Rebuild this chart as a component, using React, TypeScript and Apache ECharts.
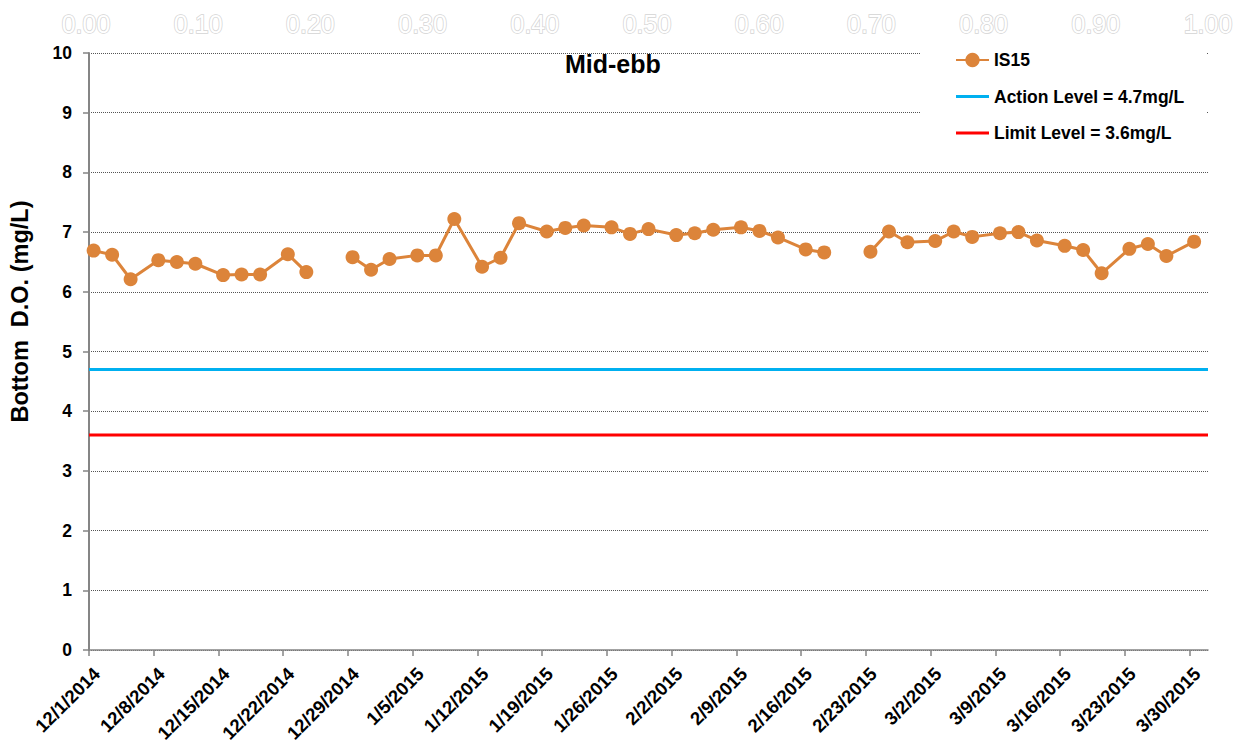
import React, { useEffect, useRef } from "react";
import * as echarts from "echarts";

// ---- data ----
const START_DATE = "12/1/2014";
const END_DATE = "4/1/2015";
const SAMPLE_TIME_OF_DAY = 0.5; // fraction of a day (sampling around midday)
const TICK_DAYS = 7;

const sampleDates = [
  "12/1/2014", "12/3/2014", "12/5/2014", "12/8/2014", "12/10/2014", "12/12/2014",
  "12/15/2014", "12/17/2014", "12/19/2014", "12/22/2014", "12/24/2014", "12/26/2014",
  "12/29/2014", "12/31/2014", "1/2/2015", "1/5/2015", "1/7/2015", "1/9/2015",
  "1/12/2015", "1/14/2015", "1/16/2015", "1/19/2015", "1/21/2015", "1/23/2015",
  "1/26/2015", "1/28/2015", "1/30/2015", "2/2/2015", "2/4/2015", "2/6/2015",
  "2/9/2015", "2/11/2015", "2/13/2015", "2/16/2015", "2/18/2015", "2/20/2015",
  "2/23/2015", "2/25/2015", "2/27/2015", "3/2/2015", "3/4/2015", "3/6/2015",
  "3/9/2015", "3/11/2015", "3/13/2015", "3/16/2015", "3/18/2015", "3/20/2015",
  "3/23/2015", "3/25/2015", "3/27/2015", "3/30/2015",
];

const is15Values: (number | null)[] = [
  6.69, 6.62, 6.21, 6.53, 6.50, 6.47,
  6.28, 6.29, 6.29, 6.63, 6.33, null,
  6.58, 6.37, 6.55, 6.61, 6.61, 7.22,
  6.42, 6.57, 7.15, 7.01, 7.07, 7.11,
  7.08, 6.97, 7.05, 6.95, 6.98, 7.04,
  7.08, 7.02, 6.91, 6.71, 6.66, null,
  6.67, 7.01, 6.83, 6.85, 7.01, 6.92,
  6.98, 7.00, 6.86, 6.77, 6.70, 6.31,
  6.72, 6.80, 6.60, 6.84,
];

const ACTION_LEVEL = 4.7;
const LIMIT_LEVEL = 3.6;
const Y_MIN = 0;
const Y_MAX = 10;
const topAxisTicks = [0, 0.1, 0.2, 0.3, 0.4, 0.5, 0.6, 0.7, 0.8, 0.9, 1.0];

const SERIES_NAME = "IS15";
const ACTION_NAME = "Action Level = 4.7mg/L";
const LIMIT_NAME = "Limit Level = 3.6mg/L";
const TITLE = "Mid-ebb";
const Y_TITLE = "Bottom  D.O. (mg/L)";

// ---- helpers ----
const DAY_MS = 86400000;
function parseUS(d: string): number {
  const [m, day, y] = d.split("/").map(Number);
  return Date.UTC(y, m - 1, day);
}
const startMs = parseUS(START_DATE);
function dayIndex(d: string): number {
  return Math.round((parseUS(d) - startMs) / DAY_MS);
}
function fmtDay(v: number): string {
  const dt = new Date(startMs + Math.round(v) * DAY_MS);
  return `${dt.getUTCMonth() + 1}/${dt.getUTCDate()}/${dt.getUTCFullYear()}`;
}
const xMax = dayIndex(END_DATE);
const tickDays: number[] = [];
for (let d = 0; d <= xMax - 1; d += TICK_DAYS) tickDays.push(d);
const LABEL_SHIFT_DAYS = 0.1;
const labelDays = tickDays.map((d) => d + LABEL_SHIFT_DAYS);

const FONT = "'Liberation Sans', Arial, sans-serif";
const LINE_ICON = "path://M0,0 H33 V3 H0 Z";

export default function App() {
  const ref = useRef<HTMLDivElement>(null);
  useEffect(() => {
    if (!ref.current) return;
    const chart = echarts.init(ref.current, undefined, { renderer: "svg" });
    const is15Data = sampleDates.map((d, i) => [
      dayIndex(d) + SAMPLE_TIME_OF_DAY,
      is15Values[i] === null ? "-" : is15Values[i],
    ]);
    chart.setOption({
      animation: false,
      backgroundColor: "#ffffff",
      textStyle: { fontFamily: FONT },
      title: {
        text: TITLE,
        left: 565,
        top: 51,
        padding: 0,
        textStyle: { fontSize: 25, fontWeight: "bold", color: "#000", fontFamily: FONT },
      },
      legend: {
        orient: "vertical",
        left: 920,
        top: 41,
        padding: [10, 22, 10, 35],
        backgroundColor: "#ffffff",
        itemWidth: 33,
        itemHeight: 18,
        itemGap: 18.5,
        textStyle: { fontSize: 17.5, fontWeight: "bold", color: "#000", fontFamily: FONT },
        data: [
          { name: SERIES_NAME },
          { name: ACTION_NAME, icon: LINE_ICON },
          { name: LIMIT_NAME, icon: LINE_ICON },
        ],
      },
      grid: [
        { left: 89, right: 36, top: 53, bottom: 93, containLabel: false, outerBoundsMode: "none" },
        { left: 86, right: 36, top: 42, height: 1, containLabel: false, outerBoundsMode: "none" },
      ],
      xAxis: [
        {
          type: "value",
          gridIndex: 0,
          min: 0,
          max: xMax,
          axisLine: { show: true, lineStyle: { color: "#858585", width: 1.5 } },
          axisTick: { show: true, length: 6, lineStyle: { color: "#858585", width: 1.5 }, customValues: tickDays },
          splitLine: { show: false },
          axisLabel: {
            customValues: labelDays,
            rotate: 45,
            margin: 14,
            verticalAlign: "top",
            fontSize: 18.5,
            fontWeight: "bold",
            color: "#000",
            fontFamily: FONT,
            formatter: (v: number) => fmtDay(v),
          },
        },
        {
          type: "value",
          gridIndex: 1,
          position: "top",
          min: 0,
          max: 1,
          interval: 0.1,
          axisLine: { show: false },
          axisTick: { show: false },
          splitLine: { show: false },
          axisLabel: {
            customValues: topAxisTicks,
            margin: 6,
            fontSize: 25,
            color: "#ffffff",
            textBorderColor: "#d4d4d4",
            textBorderWidth: 1.5,
            fontFamily: FONT,
            formatter: (v: number) => v.toFixed(2),
          },
        },
      ],
      yAxis: [
        {
          type: "value",
          gridIndex: 0,
          min: Y_MIN,
          max: Y_MAX,
          interval: 1,
          name: Y_TITLE,
          nameLocation: "middle",
          nameGap: 57,
          nameRotate: 90,
          nameTextStyle: {
            fontSize: 23.5,
            fontWeight: "bold",
            color: "#000",
            fontFamily: FONT,
            padding: [0, 0, 0, 80],
          },
          axisLine: { show: true, lineStyle: { color: "#858585", width: 2 } },
          axisTick: { show: true, length: 6, lineStyle: { color: "#858585", width: 1.5 } },
          splitLine: { show: true, lineStyle: { color: "#555", type: "dotted", width: 1 } },
          axisLabel: { fontSize: 17.5, fontWeight: "bold", color: "#000", margin: 17, fontFamily: FONT },
        },
        {
          type: "value",
          gridIndex: 1,
          show: false,
          min: 0,
          max: 1,
        },
      ],
      series: [
        {
          name: ACTION_NAME,
          type: "line",
          xAxisIndex: 0,
          yAxisIndex: 0,
          data: [[0, ACTION_LEVEL], [xMax, ACTION_LEVEL]],
          symbol: "none",
          lineStyle: { color: "#00B0F0", width: 3 },
          itemStyle: { color: "#00B0F0" },
          z: 2,
        },
        {
          name: LIMIT_NAME,
          type: "line",
          xAxisIndex: 0,
          yAxisIndex: 0,
          data: [[0, LIMIT_LEVEL], [xMax, LIMIT_LEVEL]],
          symbol: "none",
          lineStyle: { color: "#FF0000", width: 3 },
          itemStyle: { color: "#FF0000" },
          z: 2,
        },
        {
          name: SERIES_NAME,
          type: "line",
          xAxisIndex: 0,
          yAxisIndex: 0,
          data: is15Data,
          connectNulls: false,
          symbol: "circle",
          symbolSize: 14,
          lineStyle: { color: "#DC843A", width: 3 },
          itemStyle: { color: "#DC843A" },
          z: 3,
        },
      ],
    });
    return () => chart.dispose();
  }, []);
  return (
    <div
      ref={ref}
      style={{ position: "fixed", left: 0, top: 0, width: 1244, height: 743 }}
    />
  );
}
